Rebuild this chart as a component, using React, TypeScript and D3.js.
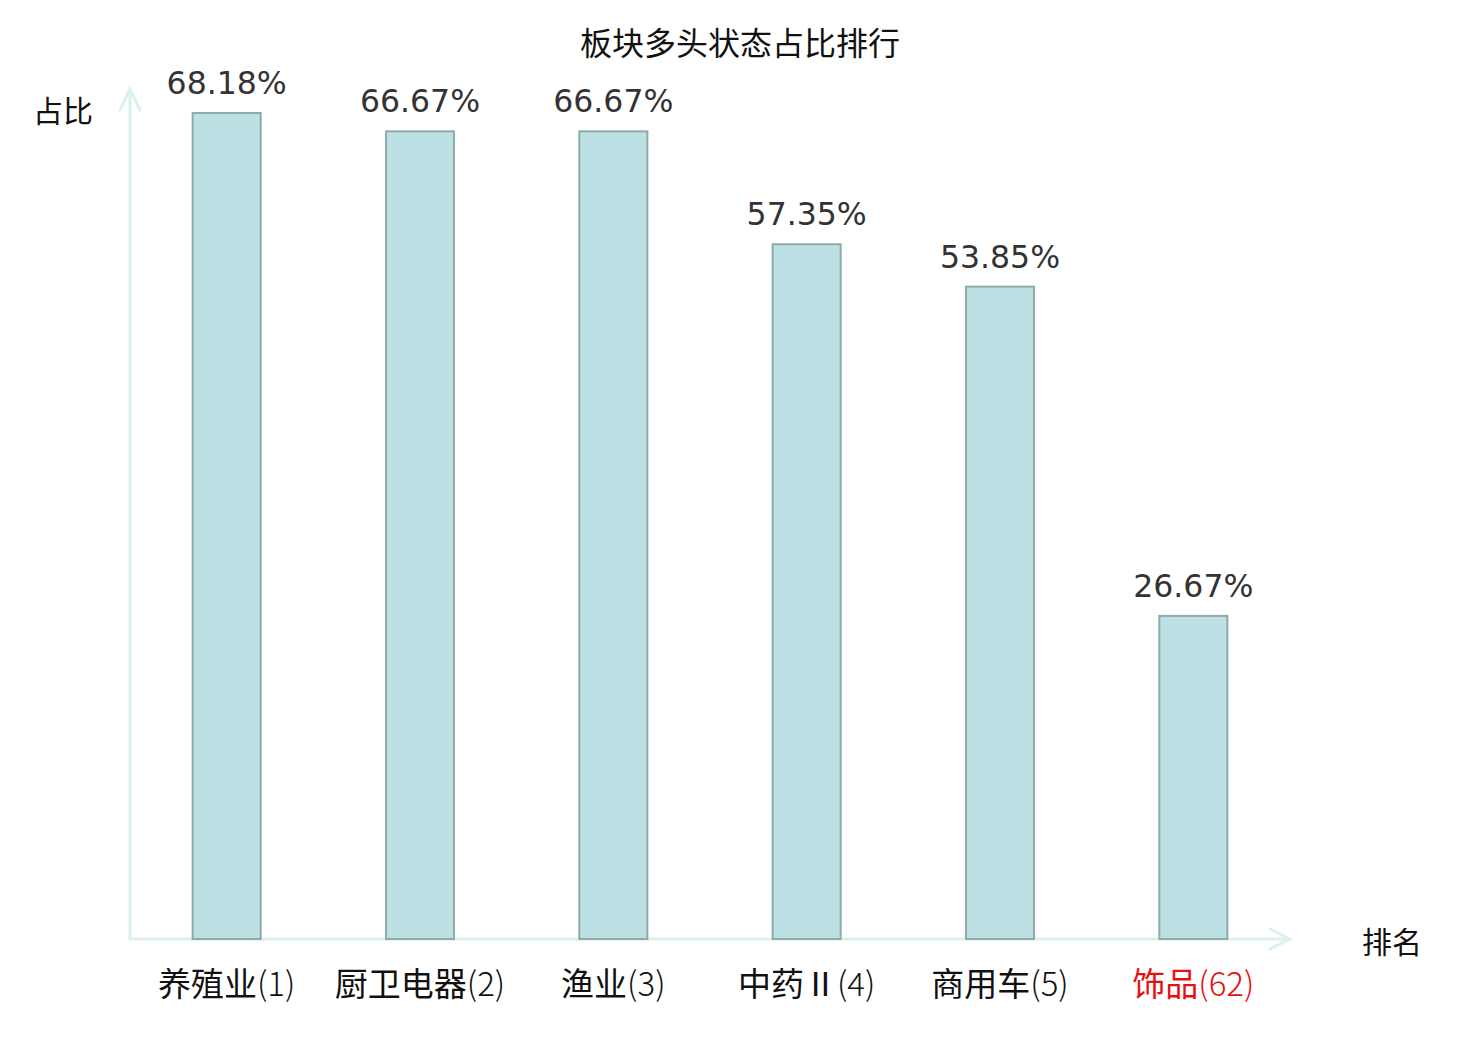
import React from "react";
import * as d3 from "d3";

const categories = ["养殖业(1)", "厨卫电器(2)", "渔业(3)", "中药Ⅱ(4)", "商用车(5)", "饰品(62)"];
const values = [68.18, 66.67, 66.67, 57.35, 53.85, 26.67];
const highlight = [false, false, false, false, false, true];

const W = 1480;
const H = 1040;
const x0 = 130;
const x1 = 1290;
const yBase = 939;
const yTop = 91;

const cjk = "'Noto Sans CJK SC', 'Noto Sans', sans-serif";
const num = "'DejaVu Sans', sans-serif";
const axisColor = "#dcf1ee";

const App: React.FC = () => {
  const x = d3.scaleBand<string>().domain(categories).range([x0, x1]).padding(0);
  const y = d3.scaleLinear().domain([0, 70]).range([yBase, yTop]);
  const barW = x.bandwidth() * 0.352;

  return (
    <svg
      width={W}
      height={H}
      style={{ position: "absolute", left: 0, top: 0, background: "#fff" }}
    >
      <text
        x={740}
        y={41}
        textAnchor="middle"
        dominantBaseline="central"
        fontFamily={cjk}
        fontSize={32}
        fill="#111"
      >
        板块多头状态占比排行
      </text>

      {/* axes */}
      <g stroke={axisColor} strokeWidth={3} fill="none" strokeLinecap="round">
        <line x1={x0} y1={yBase} x2={x0} y2={89} />
        <polyline points={`${x0 - 10},110 ${x0},89 ${x0 + 10},110`} />
        <line x1={x0} y1={yBase} x2={x1} y2={yBase} />
        <polyline points={`${x1 - 20},${yBase - 10} ${x1},${yBase} ${x1 - 20},${yBase + 10}`} />
      </g>

      <text x={63} y={109} textAnchor="middle" dominantBaseline="central" fontFamily={cjk} fontSize={30} fill="#111">
        占比
      </text>
      <text x={1392} y={940} textAnchor="middle" dominantBaseline="central" fontFamily={cjk} fontSize={30} fill="#111">
        排名
      </text>

      {categories.map((c, i) => {
        const cx = (x(c) ?? 0) + x.bandwidth() / 2;
        const top = y(values[i]);
        const k = c.indexOf("(");
        return (
          <g key={c}>
            <rect
              x={cx - barW / 2}
              y={top}
              width={barW}
              height={yBase - top}
              fill="#bce0e3"
              stroke="#8eaaa9"
              strokeWidth={2}
            />
            <text
              x={cx}
              y={top - 19}
              textAnchor="middle"
              fontFamily={num}
              fontSize={31.5}
              fill="#333"
            >
              {values[i].toFixed(2)}%
            </text>
            <text
              x={cx}
              y={982}
              textAnchor="middle"
              dominantBaseline="central"
              fontFamily={cjk}
              fontSize={33}
              fill={highlight[i] ? "#e61010" : "#111"}
            >
              <tspan>{c.slice(0, k)}</tspan>
              <tspan fontWeight={300}>{c.slice(k)}</tspan>
            </text>
          </g>
        );
      })}
    </svg>
  );
};

export default App;
